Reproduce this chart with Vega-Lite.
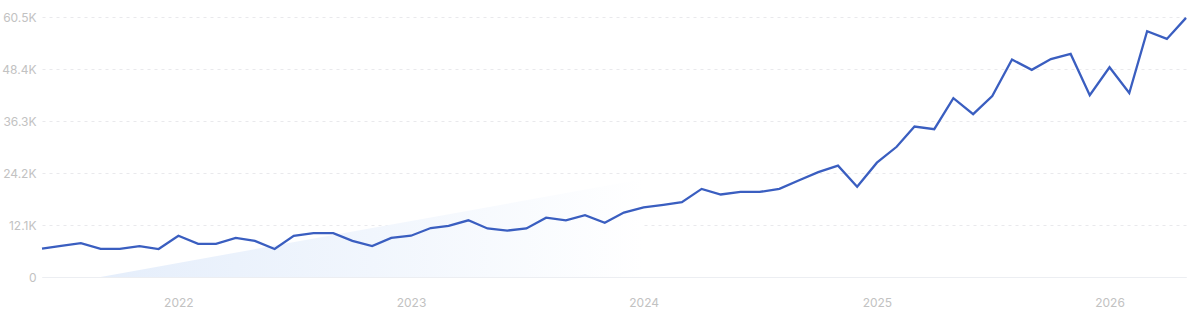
{
  "$schema": "https://vega.github.io/schema/vega-lite/v6.json",
  "autosize": "none",
  "width": 1144,
  "height": 260,
  "padding": {"left": 42, "top": 17, "right": 14, "bottom": 39},
  "background": "#ffffff",
  "config": {"view": {"stroke": null}, "font": "Inter"},
  "datasets": {
    "series": [
      {"month": "2021-06-01", "value": 6600},
      {"month": "2021-07-01", "value": 7250},
      {"month": "2021-08-01", "value": 7900},
      {"month": "2021-09-01", "value": 6550},
      {"month": "2021-10-01", "value": 6550},
      {"month": "2021-11-01", "value": 7200},
      {"month": "2021-12-01", "value": 6500},
      {"month": "2022-01-01", "value": 9600},
      {"month": "2022-02-01", "value": 7700},
      {"month": "2022-03-01", "value": 7700},
      {"month": "2022-04-01", "value": 9100},
      {"month": "2022-05-01", "value": 8400},
      {"month": "2022-06-01", "value": 6500},
      {"month": "2022-07-01", "value": 9600},
      {"month": "2022-08-01", "value": 10200},
      {"month": "2022-09-01", "value": 10200},
      {"month": "2022-10-01", "value": 8400},
      {"month": "2022-11-01", "value": 7200},
      {"month": "2022-12-01", "value": 9100},
      {"month": "2023-01-01", "value": 9600},
      {"month": "2023-02-01", "value": 11400},
      {"month": "2023-03-01", "value": 11900},
      {"month": "2023-04-01", "value": 13200},
      {"month": "2023-05-01", "value": 11300},
      {"month": "2023-06-01", "value": 10800},
      {"month": "2023-07-01", "value": 11300},
      {"month": "2023-08-01", "value": 13800},
      {"month": "2023-09-01", "value": 13200},
      {"month": "2023-10-01", "value": 14400},
      {"month": "2023-11-01", "value": 12600},
      {"month": "2023-12-01", "value": 15000},
      {"month": "2024-01-01", "value": 16200},
      {"month": "2024-02-01", "value": 16800},
      {"month": "2024-03-01", "value": 17400},
      {"month": "2024-04-01", "value": 20500},
      {"month": "2024-05-01", "value": 19200},
      {"month": "2024-06-01", "value": 19800},
      {"month": "2024-07-01", "value": 19800},
      {"month": "2024-08-01", "value": 20500},
      {"month": "2024-09-01", "value": 22500},
      {"month": "2024-10-01", "value": 24400},
      {"month": "2024-11-01", "value": 25900},
      {"month": "2024-12-01", "value": 21000},
      {"month": "2025-01-01", "value": 26600},
      {"month": "2025-02-01", "value": 30300},
      {"month": "2025-03-01", "value": 35000},
      {"month": "2025-04-01", "value": 34400},
      {"month": "2025-05-01", "value": 41600},
      {"month": "2025-06-01", "value": 37900},
      {"month": "2025-07-01", "value": 42100},
      {"month": "2025-08-01", "value": 50600},
      {"month": "2025-09-01", "value": 48200},
      {"month": "2025-10-01", "value": 50700},
      {"month": "2025-11-01", "value": 51900},
      {"month": "2025-12-01", "value": 42300},
      {"month": "2026-01-01", "value": 48800},
      {"month": "2026-02-01", "value": 42800},
      {"month": "2026-03-01", "value": 57200},
      {"month": "2026-04-01", "value": 55400},
      {"month": "2026-05-01", "value": 60300}
    ],
    "wedge": [
      {"month": "2021-09-01", "value": 0},
      {"month": "2024-01-01", "value": 22800}
    ]
  },
  "layer": [
    {
      "data": {"name": "wedge"},
      "mark": {
        "type": "area",
        "fill": {
          "x1": 0, "y1": 0, "x2": 1, "y2": 0,
          "gradient": "linear",
          "stops": [
            {"offset": 0, "color": "#e5eefb"},
            {"offset": 0.5, "color": "#f1f6fd"},
            {"offset": 1, "color": "#ffffff"}
          ]
        },
        "stroke": null
      },
      "encoding": {
        "x": {"field": "month", "type": "temporal"},
        "y": {"field": "value", "type": "quantitative"}
      }
    },
    {
      "data": {"name": "series"},
      "mark": {"type": "line", "color": "#3a5ec0", "strokeWidth": 2.3, "strokeJoin": "miter"},
      "encoding": {
        "x": {
          "field": "month",
          "type": "temporal",
          "scale": {"domain": ["2021-06-01", "2026-05-01"], "nice": false},
          "axis": {
            "title": null,
            "format": "%Y",
            "tickCount": {"interval": "year", "step": 1},
            "grid": false,
            "ticks": false,
            "domain": true,
            "domainColor": "#eceef2",
            "domainWidth": 1,
            "labelColor": "#c2c2c2",
            "labelFontSize": 12,
            "labelPadding": 20,
            "labelFont": "Inter"
          }
        },
        "y": {
          "field": "value",
          "type": "quantitative",
          "scale": {"domain": [0, 60500], "nice": false, "zero": true},
          "axis": {
            "title": null,
            "values": [0, 12100, 24200, 36300, 48400, 60500],
            "labelExpr": "datum.value == 0 ? '0' : format(datum.value / 1000, '.1f') + 'K'",
            "domain": false,
            "ticks": false,
            "grid": true,
            "gridColor": "#e9e9ec",
            "gridDash": [3, 4],
            "gridWidth": 1,
            "labelColor": "#c2c2c2",
            "labelFontSize": 12,
            "labelPadding": 6,
            "labelFont": "Inter"
          }
        }
      }
    }
  ]
}
